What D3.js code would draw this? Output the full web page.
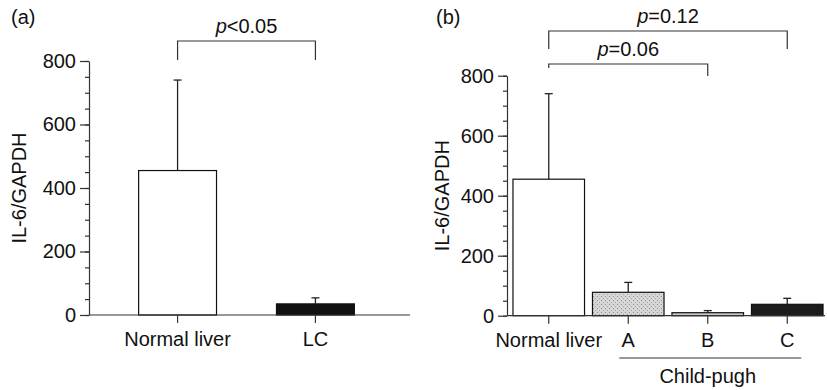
<!DOCTYPE html>
<html>
<head>
<meta charset="utf-8">
<script src="https://cdn.jsdelivr.net/npm/d3@7"></script>
<style>
  body { margin: 0; background: #fff; }
  svg { font-family: "Liberation Sans", Arial, Helvetica, sans-serif; }
  .ax line, .ax path { stroke: #333; stroke-width: 1.2; }
  text { fill: #111; }
</style>
</head>
<body>
<svg id="chart" width="827" height="390"></svg>
<script>
// panel (a)
var groupsA = ["Normal liver", "LC"];
var valuesA = [455, 35];
var errorsA = [285, 19];
var fillsA = ["#fff", "#111"];

// panel (b)
var groupsB = ["Normal liver", "A", "B", "C"];
var valuesB = [455, 78, 10, 38];
var errorsB = [285, 33, 7, 20];
var fillsB = ["#fff", "url(#stipple)", "#c8c8c8", "#1c1c1c"];

var yTicks = [0, 200, 400, 600, 800];
var yMinor = d3.range(0, 801, 50);

var svg = d3.select("#chart");
var fs = "20px";

// stippled grey for Child-pugh A
var pat = svg.append("defs").append("pattern")
    .attr("id", "stipple")
    .attr("patternUnits", "userSpaceOnUse")
    .attr("width", 4).attr("height", 4);
pat.append("rect").attr("width", 4).attr("height", 4).attr("fill", "#d6d6d6");
pat.append("rect").attr("x", 1).attr("y", 0).attr("width", 1).attr("height", 1).attr("fill", "#8e8e8e");
pat.append("rect").attr("x", 3).attr("y", 2).attr("width", 1).attr("height", 1).attr("fill", "#a0a0a0");

function drawPanel(cfg) {
    var x = d3.scaleBand().domain(cfg.groups).range(cfg.xRange)
        .paddingInner(cfg.padIn).paddingOuter(cfg.padOut);
    var y = d3.scaleLinear().domain([0, 800]).range(cfg.yRange);
    var x0 = cfg.axisX;

    // minor ticks
    svg.append("g").attr("class", "ax")
        .attr("transform", "translate(" + x0 + ",0)")
        .call(d3.axisLeft(y).tickValues(yMinor).tickSize(4).tickFormat(""))
        .select(".domain").remove();

    // major ticks + labels
    var ya = svg.append("g").attr("class", "ax")
        .attr("transform", "translate(" + x0 + ",0)")
        .call(d3.axisLeft(y).tickValues(yTicks).tickSize(9).tickSizeOuter(0).tickPadding(4));
    ya.selectAll("text").style("font-size", fs).attr("fill", "#111");

    // bars
    svg.append("g").selectAll("rect")
        .data(cfg.groups)
        .enter().append("rect")
        .attr("x", function(d) { return x(d); })
        .attr("y", function(d, i) { return y(cfg.values[i]); })
        .attr("width", x.bandwidth())
        .attr("height", function(d, i) { return y(0) - y(cfg.values[i]); })
        .attr("fill", function(d, i) { return cfg.fills[i]; })
        .attr("stroke", "#111")
        .attr("stroke-width", 1.2);

    // error bars (upper only)
    var eb = svg.append("g").attr("stroke", "#222").attr("stroke-width", 1.3);
    cfg.groups.forEach(function(d, i) {
        var cx = x(d) + x.bandwidth() / 2,
            top = y(cfg.values[i] + cfg.errors[i]);
        eb.append("line").attr("x1", cx).attr("x2", cx)
            .attr("y1", y(cfg.values[i])).attr("y2", top);
        eb.append("line").attr("x1", cx - 4).attr("x2", cx + 4)
            .attr("y1", top).attr("y2", top);
    });

    // x axis
    var xa = svg.append("g").attr("class", "ax")
        .attr("transform", "translate(0," + y(0) + ")")
        .call(d3.axisBottom(x).tickSize(8).tickSizeOuter(0).tickPadding(9));
    xa.select(".domain").attr("d", "M" + x0 + ",0H" + cfg.axisEnd);
    xa.selectAll("text").style("font-size", fs).attr("fill", "#111");

    // y title
    svg.append("text")
        .attr("transform", "translate(" + cfg.titleX + "," + (cfg.yRange[0] + cfg.yRange[1]) / 2 + ") rotate(-90)")
        .attr("text-anchor", "middle")
        .style("font-size", fs)
        .text("IL-6/GAPDH");

    // panel letter
    svg.append("text").attr("x", cfg.letterX).attr("y", 24)
        .style("font-size", fs).text(cfg.letter);

    return { x: x, y: y };
}

function bracket(x, g1, g2, yTop, leg1, leg2, label) {
    var xa = x(g1) + x.bandwidth() / 2,
        xb = x(g2) + x.bandwidth() / 2;
    svg.append("path")
        .attr("d", "M" + xa + "," + (yTop + leg1) + "V" + yTop + "H" + xb + "V" + (yTop + leg2))
        .attr("fill", "none").attr("stroke", "#333").attr("stroke-width", 1.2);
    var t = svg.append("text")
        .attr("x", (xa + xb) / 2).attr("y", yTop - 8)
        .attr("text-anchor", "middle")
        .style("font-size", fs);
    t.append("tspan").style("font-style", "italic").text("p");
    t.append("tspan").text(label);
}

var pa = drawPanel({
    groups: groupsA, values: valuesA, errors: errorsA, fills: fillsA,
    xRange: [89, 404], padIn: 0.435, padOut: 0.36,
    yRange: [315, 61], axisX: 89, axisEnd: 410,
    titleX: 26, letter: "(a)", letterX: 11
});
bracket(pa.x, "Normal liver", "LC", 41, 19, 19, "<0.05");

var pb = drawPanel({
    groups: groupsB, values: valuesB, errors: errorsB, fills: fillsB,
    xRange: [509, 827], padIn: 0.1, padOut: 0.05,
    yRange: [315.7, 75.7], axisX: 507, axisEnd: 825,
    titleX: 449, letter: "(b)", letterX: 436
});
bracket(pb.x, "Normal liver", "C", 31, 18, 18, "=0.12");
bracket(pb.x, "Normal liver", "B", 64, 4, 12, "=0.06");

// Child-pugh grouping line
var lineL = pb.x("A") + pb.x.bandwidth() / 2 - 9,
    lineR = pb.x("C") + pb.x.bandwidth() / 2 + 14;
svg.append("line")
    .attr("x1", lineL).attr("x2", lineR)
    .attr("y1", 358).attr("y2", 358)
    .attr("stroke", "#333").attr("stroke-width", 1.2);
svg.append("text")
    .attr("x", pb.x("B") + pb.x.bandwidth() / 2).attr("y", 383)
    .attr("text-anchor", "middle")
    .style("font-size", fs)
    .text("Child-pugh");
</script>
</body>
</html>
